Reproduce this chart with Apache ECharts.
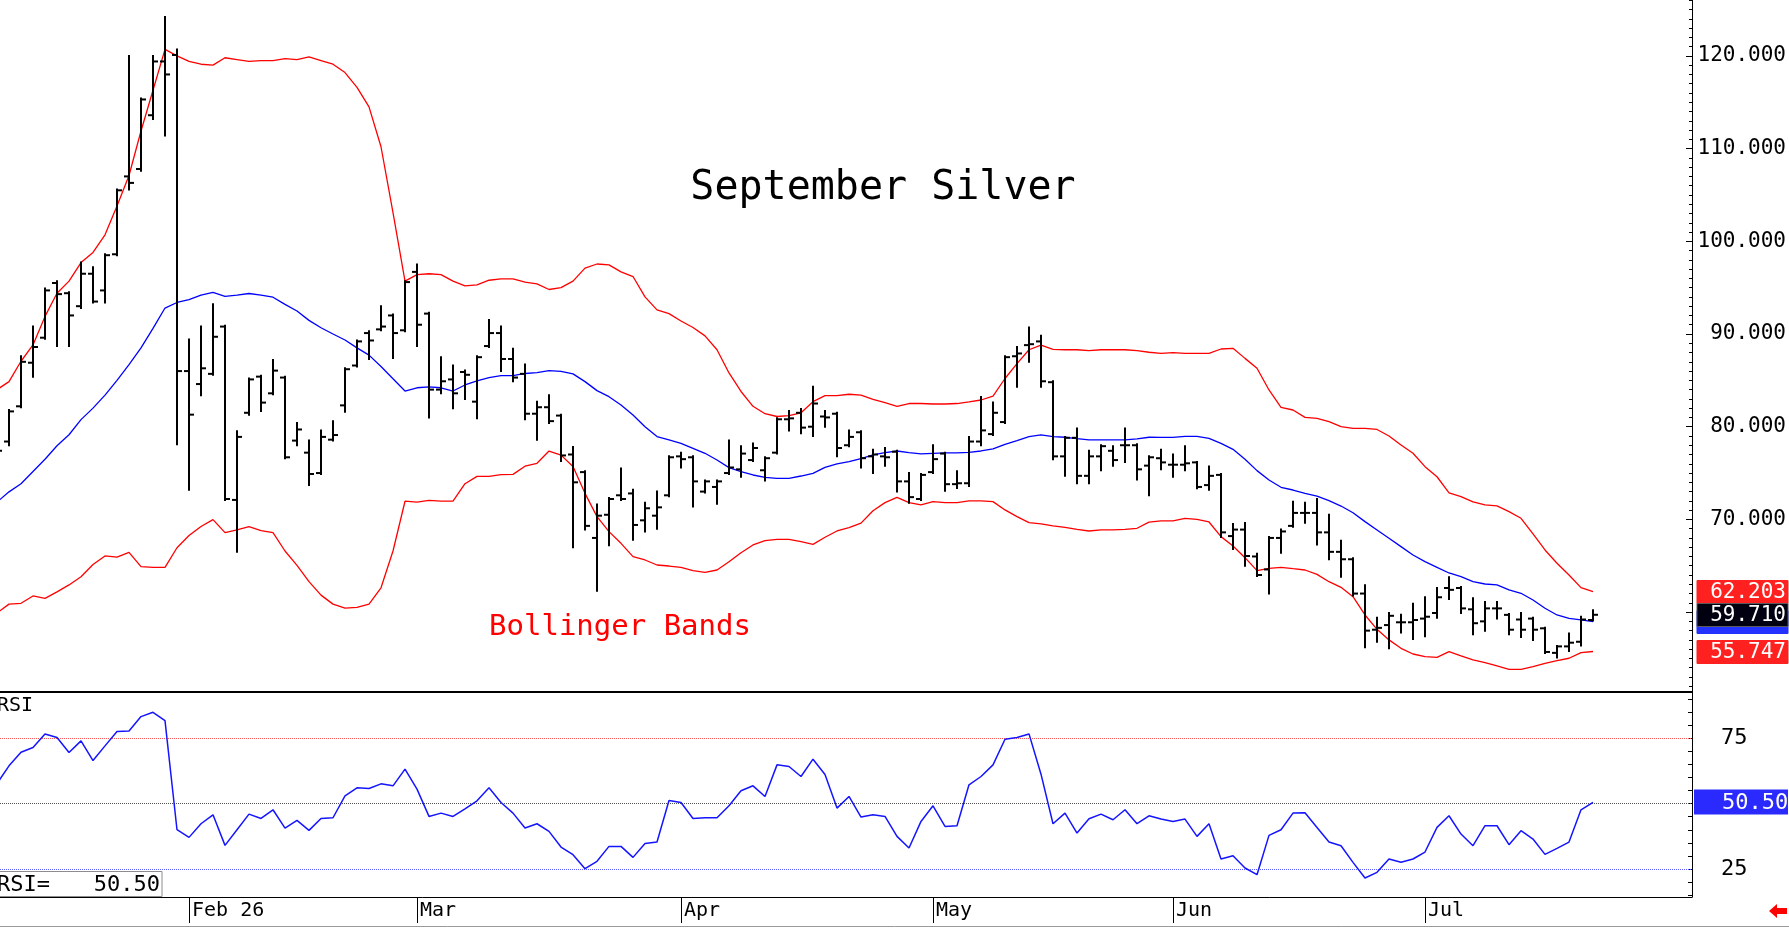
<!DOCTYPE html>
<html>
<head>
<meta charset="utf-8">
<title>September Silver</title>
<script src="https://cdn.jsdelivr.net/npm/echarts@6.0.0/dist/echarts.min.js"></script>
<style>
  html, body { margin: 0; padding: 0; background: #fff; }
  #chart { width: 1789px; height: 928px; }
</style>
</head>
<body>
<div id="chart"></div>
<script>
// bar index of the first entry (one bar is cut off at the left edge)
const firstBar = -1

const opens = [
  77.0,
  78.4, 82.2, 86.9, 89.6, 95.5, 94.4, 93.0, 96.5, 94.7, 98.6,
  107.0, 107.8, 113.6, 119.4, 120.1, 86.0, 84.6, 85.7, 90.8, 72.1,
  81.5, 85.4, 83.6, 85.3, 78.5, 77.2, 75.0, 78.6, 82.3, 86.6,
  90.1, 90.5, 92.0, 90.4, 96.7, 92.2, 84.0, 85.1, 85.9, 82.7,
  88.7, 90.1, 87.3, 85.7, 81.4, 82.1, 81.2, 77.0, 75.1, 68.0,
  70.5, 72.6, 72.8, 69.9, 70.4, 72.6, 76.8, 76.7, 73.0, 73.5,
  75.0, 75.4, 76.4, 75.3, 77.2, 80.8, 81.5, 80.0, 81.1, 81.4,
  78.0, 79.4, 76.8, 76.8, 77.3, 74.1, 72.2, 75.1, 77.1, 73.8,
  73.9, 78.4, 79.2, 80.5, 87.6, 88.8, 89.2, 84.8, 76.8, 78.8,
  74.7, 76.8, 77.4, 78.0, 78.0, 75.8, 76.6, 75.9, 75.9, 76.15,
  73.7, 74.8, 68.2, 68.9, 66.0, 64.6, 68.0, 69.3, 70.7, 70.7,
  68.6, 66.5, 65.7, 62.0, 58.1, 58.6, 58.9, 58.9, 59.3, 59.9,
  62.6, 62.6, 60.3, 59.0, 60.4, 59.7, 59.2, 59.3, 58.25, 55.6,
  56.3, 56.8, 59.15
]
const highs = [
  78.6,
  81.8, 87.6, 90.8, 94.9, 95.7, 94.5, 97.7, 97.2, 98.6, 105.6,
  120.0, 115.4, 120.0, 124.2, 120.7, 89.4, 90.8, 93.2, 90.9, 79.5,
  85.2, 85.5, 87.2, 85.4, 80.4, 78.5, 79.6, 80.6, 86.3, 89.3,
  90.3, 93.0, 92.1, 95.7, 97.5, 92.3, 87.5, 86.6, 86.05, 87.6,
  91.5, 90.8, 88.4, 86.7, 82.7, 83.4, 81.3, 77.8, 75.2, 71.6,
  72.3, 75.5, 73.2, 71.8, 73.0, 76.8, 77.2, 76.8, 74.2, 74.2,
  78.5, 77.9, 78.2, 76.7, 80.9, 81.7, 81.9, 84.3, 81.7, 81.5,
  79.6, 79.5, 77.5, 77.7, 77.4, 75.0, 74.9, 78.0, 77.2, 75.2,
  78.9, 83.2, 82.6, 87.6, 88.6, 90.7, 89.8, 84.9, 78.9, 79.8,
  77.4, 78.0, 77.9, 79.8, 78.1, 76.8, 77.5, 77.0, 77.9, 76.2,
  75.7, 74.9, 69.5, 69.6, 66.3, 68.1, 68.9, 71.9, 71.8, 72.2,
  70.5, 67.7, 65.8, 62.9, 59.4, 59.9, 59.7, 60.9, 61.6, 62.6,
  63.75, 62.7, 61.5, 61.1, 61.1, 59.8, 59.9, 59.4, 58.3, 56.35,
  57.7, 59.5, 60.2
]
const lows = [
  76.2,
  78.0, 82.1, 85.4, 89.5, 88.7, 88.7, 92.8, 93.4, 93.4, 98.5,
  105.6, 107.6, 113.2, 111.4, 78.1, 73.2, 83.4, 85.6, 72.1, 66.5,
  81.3, 81.7, 83.5, 76.6, 78.0, 73.7, 74.9, 78.5, 81.6, 86.5,
  87.3, 90.4, 87.4, 90.3, 88.7, 81.0, 83.6, 82.0, 83.0, 80.9,
  88.6, 86.0, 84.9, 80.8, 78.6, 80.4, 76.3, 67.0, 68.9, 62.3,
  67.2, 72.1, 67.8, 68.7, 69.0, 72.5, 75.6, 71.4, 72.9, 71.7,
  74.9, 74.6, 76.3, 74.2, 77.1, 79.6, 79.3, 79.0, 80.0, 76.8,
  77.9, 75.6, 75.0, 75.8, 73.0, 71.8, 72.1, 75.0, 73.1, 73.4,
  73.6, 78.0, 79.1, 80.4, 84.3, 87.0, 84.3, 76.5, 74.7, 73.9,
  73.9, 75.3, 75.8, 76.2, 74.3, 72.6, 75.4, 74.6, 75.3, 73.35,
  73.2, 68.1, 66.8, 65.0, 63.9, 62.0, 66.4, 69.2, 69.65, 67.3,
  65.7, 63.8, 61.8, 56.2, 56.8, 56.1, 57.8, 57.1, 57.4, 59.4,
  61.4, 59.9, 57.6, 58.0, 59.3, 57.6, 57.3, 57.0, 55.6, 55.1,
  55.8, 56.4, 59.1
]
const closes = [
  77.4,
  81.65, 87.0, 88.6, 94.7, 94.3, 92.0, 96.5, 93.5, 98.5, 105.5,
  106.3, 115.3, 119.4, 118.0, 86.0, 81.3, 86.3, 89.7, 72.2, 78.9,
  85.1, 82.6, 86.05, 76.7, 79.7, 74.9, 78.9, 79.1, 86.2, 89.2,
  89.3, 90.8, 90.1, 95.6, 91.0, 84.0, 84.9, 83.6, 85.6, 87.5,
  90.1, 87.3, 85.3, 81.4, 82.1, 80.6, 76.9, 74.0, 69.3, 70.4,
  72.2, 72.2, 69.4, 71.2, 71.3, 76.7, 76.5, 74.1, 74.1, 74.1,
  75.6, 77.1, 77.7, 76.6, 80.8, 80.9, 79.9, 82.5, 81.0, 77.7,
  78.9, 76.6, 77.0, 76.7, 74.1, 72.4, 74.8, 76.5, 73.8, 73.9,
  78.4, 79.6, 81.5, 87.5, 87.9, 88.9, 84.9, 76.8, 78.8, 74.7,
  76.8, 77.9, 76.4, 78.0, 75.4, 76.7, 76.15, 75.9, 76.05, 73.5,
  74.7, 68.6, 68.9, 66.05, 64.0, 68.0, 68.7, 70.7, 70.7, 68.6,
  66.5, 65.7, 62.0, 58.0, 58.3, 59.6, 58.9, 59.15, 59.5, 61.6,
  62.4, 60.4, 58.8, 60.4, 60.4, 58.1, 58.1, 58.1, 55.7, 56.3,
  56.7, 59.2, 59.71
]

const upperBand = [
  84.0,
  84.86, 87.06, 88.82, 91.9, 94.4, 95.7, 97.7, 98.8, 100.7, 103.8,
  107.1, 111.9, 116.3, 120.7, 120.0, 119.4, 119.1, 119.0, 119.8, 119.6,
  119.4, 119.5, 119.5, 119.7, 119.6, 119.9, 119.5, 119.1, 118.2, 116.6,
  114.5, 110.2, 103.1, 95.7, 96.4, 96.5, 96.4, 95.7, 95.2, 95.3,
  95.8, 95.95, 95.95, 95.6, 95.4, 94.8, 95.0, 95.7, 97.1, 97.55,
  97.45, 96.7, 96.2, 94.0, 92.6, 92.2, 91.4, 90.7, 89.8, 88.3,
  85.8, 83.8, 82.2, 81.4, 81.1, 81.2, 81.5, 82.7, 83.35, 83.35,
  83.5, 83.4, 82.95, 82.6, 82.2, 82.5, 82.5, 82.45, 82.45, 82.5,
  82.67, 82.88, 83.3, 85.2, 86.8, 88.3, 88.8, 88.35, 88.3, 88.3,
  88.2, 88.3, 88.3, 88.3, 88.2, 88.03, 87.91, 87.98, 87.91, 87.91,
  87.91, 88.38, 88.45, 87.37, 86.3, 83.96, 82.09, 81.8, 81.0, 80.9,
  80.54, 80.0, 79.82, 79.82, 79.7, 79.0, 78.02, 77.13, 75.69, 74.6,
  72.85, 72.46, 71.9, 71.56, 71.45, 70.84, 70.12, 68.43, 66.7, 65.27,
  64.0, 62.64, 62.203
]
const middleBand = [
  71.87,
  72.97, 73.85, 75.17, 76.49, 77.95, 79.13, 80.76, 82.0, 83.4, 85.0,
  86.7, 88.5, 90.6, 92.8, 93.4, 93.7, 94.2, 94.5, 94.06, 94.2,
  94.37, 94.2, 93.97, 93.2, 92.48, 91.47, 90.67, 90.0, 89.35, 88.5,
  87.72, 86.5, 85.17, 83.85, 84.2, 84.3, 84.2, 83.85, 84.5, 84.95,
  85.3, 85.5, 85.5, 85.74, 85.83, 86.05, 85.96, 85.7, 84.86, 83.89,
  83.24, 82.34, 81.26, 80.0, 78.93, 78.57, 78.21, 77.67, 77.13, 76.41,
  75.58, 75.15, 74.79, 74.54, 74.43, 74.43, 74.68, 74.97, 75.62, 75.98,
  76.23, 76.55, 76.95, 77.2, 77.38, 77.2, 77.06, 77.13, 77.17, 77.17,
  77.24, 77.38, 77.6, 78.1, 78.5, 78.93, 79.11, 78.93, 78.86, 78.71,
  78.57, 78.57, 78.57, 78.57, 78.68, 78.86, 78.85, 78.85, 78.96, 78.96,
  78.74, 78.2, 77.56, 76.48, 75.26, 74.25, 73.46, 73.17, 72.81, 72.52,
  72.02, 71.44, 70.72, 69.76, 68.86, 67.96, 67.06, 66.16, 65.44, 64.83,
  64.22, 63.82, 63.28, 63.03, 62.93, 62.39, 62.03, 61.31, 60.41, 59.69,
  59.33, 59.15, 58.975
]
const lowerBand = [
  59.9,
  60.86, 60.95, 61.74, 61.48, 62.18, 62.93, 63.81, 65.13, 66.06, 65.92,
  66.45, 64.91, 64.82, 64.82, 66.94, 68.26, 69.23, 69.98, 68.57, 68.87,
  69.23, 68.79, 68.57, 66.59, 65.04, 63.28, 61.83, 60.86, 60.42, 60.51,
  60.86, 62.62, 66.59, 71.96, 71.87, 72.05, 71.96, 71.96, 73.85, 74.64,
  74.64, 74.82, 74.86, 75.74, 76.05, 77.37, 76.93, 75.7, 72.81, 70.3,
  68.68, 67.42, 65.98, 65.62, 65.08, 64.97, 64.83, 64.47, 64.29, 64.54,
  65.44, 66.41, 67.24, 67.71, 67.85, 67.85, 67.6, 67.31, 68.07, 68.75,
  69.11, 69.6, 70.94, 71.81, 72.38, 71.81, 71.56, 71.92, 71.81, 71.81,
  71.99, 71.99, 71.92, 71.02, 70.3, 69.65, 69.51, 69.29, 69.15, 68.93,
  68.75, 68.86, 68.86, 68.93, 69.04, 69.7, 69.83, 69.83, 70.11, 70.0,
  69.72, 68.14, 67.13, 65.87, 64.47, 64.72, 64.83, 64.68, 64.54, 64.07,
  63.28, 62.67, 61.66, 59.69, 58.14, 57.0, 56.09, 55.48, 55.19, 55.12,
  55.73, 55.27, 54.84, 54.55, 54.19, 53.83, 53.83, 54.12, 54.48, 54.76,
  55.02, 55.63, 55.747
]

const rsiValues = [
  57.7,
  64.44, 69.66, 71.44, 76.65, 75.25, 69.53, 73.98, 66.48, 72.07, 77.54,
  77.8, 83.27, 84.92, 81.74, 40.02, 37.1, 42.3, 45.74, 34.04, 40.02,
  46.0, 44.34, 47.65, 40.66, 43.58, 39.77, 44.34, 44.6, 53.0, 56.05,
  55.79, 57.57, 56.81, 63.17, 55.54, 45.11, 46.38, 45.11, 48.03, 51.09,
  56.05, 50.45, 46.38, 40.66, 42.31, 39.38, 33.41, 30.48, 25.14, 27.94,
  33.66, 33.66, 29.46, 34.8, 35.31, 51.21, 50.45, 44.34, 44.6, 44.6,
  49.18, 54.9, 56.81, 52.74, 64.82, 64.19, 60.37, 66.99, 61.14, 48.29,
  52.74, 44.85, 45.74, 45.11, 37.48, 33.02, 43.2, 49.18, 41.29, 41.55,
  57.19, 60.37, 64.82, 74.62, 75.25, 76.65, 61.26, 42.31, 46.38, 38.75,
  44.22, 46.0, 43.84, 47.65, 42.31, 45.36, 44.09, 43.2, 44.09, 37.48,
  42.31, 28.83, 30.1, 25.39, 22.85, 37.86, 40.02, 46.38, 46.51, 40.91,
  35.31, 33.91, 27.56, 21.58, 23.74, 28.83, 27.56, 28.83, 31.5, 40.91,
  45.36, 38.37, 33.91, 41.55, 41.55, 34.3, 39.64, 36.46, 30.61, 32.9,
  35.31, 47.65, 50.5
]

// month starts on the bar index scale
const monthTicks = [15, 34, 56, 77, 97, 118]
const monthLabels = ['Feb 26', 'Mar', 'Apr', 'May', 'Jun', 'Jul']
const priceLabels = [70, 80, 90, 100, 110, 120]
const rsiLabels = [25, 75]
const rsiLevels = [75, 50, 25]

const monoFont = '"DejaVu Sans Mono", "Liberation Mono", monospace'

const chart = echarts.init(document.getElementById('chart'), null, { renderer: 'canvas' })

const idx = (k) => k + firstBar
const ohlc = opens.map((o, k) => [idx(k), o, highs[k], lows[k], closes[k]])
const pairs = (arr) => arr.map((v, k) => [idx(k), v])

function range(a, b, step) {
  const out = []
  for (let v = a; v <= b; v += step) out.push(v)
  return out
}

function renderBar(params, api) {
  const x = api.value(0)
  const o = api.coord([x, api.value(1)])
  const h = api.coord([x, api.value(2)])
  const l = api.coord([x, api.value(3)])
  const c = api.coord([x, api.value(4)])
  const style = { stroke: '#000', lineWidth: 2 }
  return {
    type: 'group',
    children: [
      { type: 'line', shape: { x1: h[0], y1: h[1] - 1, x2: l[0], y2: l[1] + 1 }, style },
      { type: 'line', shape: { x1: o[0] - 5, y1: o[1], x2: o[0], y2: o[1] }, style },
      { type: 'line', shape: { x1: c[0], y1: c[1], x2: c[0] + 5, y2: c[1] }, style }
    ]
  }
}

const xMin = -0.75
const xMax = 140.25

const option = {
  animation: false,
  backgroundColor: '#fff',
  grid: [
    { left: 0, top: 0, width: 1692, height: 692 },
    { left: 0, top: 692, width: 1692, height: 205 }
  ],
  xAxis: [
    { gridIndex: 0, type: 'value', min: xMin, max: xMax, show: false },
    {
      gridIndex: 1,
      type: 'value',
      min: xMin,
      max: xMax,
      axisLine: { show: true, onZero: false, lineStyle: { color: '#000', width: 1 } },
      axisTick: { show: true, customValues: monthTicks, length: 26, lineStyle: { color: '#000', width: 1 } },
      axisLabel: {
        customValues: monthTicks,
        formatter: (v) => monthLabels[monthTicks.indexOf(v)] || '',
        align: 'left',
        padding: [0, 0, 0, 3],
        margin: 4,
        color: '#000',
        fontFamily: monoFont,
        fontSize: 20
      },
      splitLine: { show: false }
    }
  ],
  yAxis: [
    {
      gridIndex: 0,
      type: 'value',
      position: 'right',
      min: 51.38,
      max: 126.03,
      axisLine: { show: true, onZero: false, lineStyle: { color: '#000', width: 1 } },
      axisTick: { show: true, inside: true, length: 6, customValues: [60].concat(priceLabels), lineStyle: { color: '#000' } },
      axisLabel: {
        customValues: priceLabels,
        formatter: (v) => v.toFixed(3),
        align: 'right',
        margin: 94,
        color: '#000',
        fontFamily: monoFont,
        fontSize: 21
      },
      splitLine: { show: false }
    },
    {
      gridIndex: 0,
      type: 'value',
      position: 'right',
      min: 51.38,
      max: 126.03,
      axisLine: { show: false, onZero: false },
      axisTick: { show: true, inside: true, length: 3, customValues: range(52, 126, 1), lineStyle: { color: '#000' } },
      axisLabel: { show: false },
      splitLine: { show: false }
    },
    {
      gridIndex: 1,
      type: 'value',
      position: 'right',
      min: 14.31,
      max: 92.67,
      axisLine: { show: true, onZero: false, lineStyle: { color: '#000', width: 1 } },
      axisTick: { show: true, inside: true, length: 4, customValues: range(15, 90, 5), lineStyle: { color: '#000' } },
      axisLabel: {
        customValues: rsiLabels,
        align: 'left',
        margin: 29,
        color: '#000',
        fontFamily: monoFont,
        fontSize: 22
      },
      splitLine: { show: false }
    }
  ],
  series: [
    {
      name: 'Upper',
      type: 'line',
      xAxisIndex: 0,
      yAxisIndex: 0,
      data: pairs(upperBand),
      symbol: 'none',
      lineStyle: { color: '#ff0000', width: 1.3 },
      clip: true,
      z: 2
    },
    {
      name: 'Middle',
      type: 'line',
      xAxisIndex: 0,
      yAxisIndex: 0,
      data: pairs(middleBand),
      symbol: 'none',
      lineStyle: { color: '#0000ff', width: 1.3 },
      clip: true,
      z: 2
    },
    {
      name: 'Lower',
      type: 'line',
      xAxisIndex: 0,
      yAxisIndex: 0,
      data: pairs(lowerBand),
      symbol: 'none',
      lineStyle: { color: '#ff0000', width: 1.3 },
      clip: true,
      z: 2
    },
    {
      name: 'Silver',
      type: 'custom',
      xAxisIndex: 0,
      yAxisIndex: 0,
      renderItem: renderBar,
      encode: { x: 0, y: [1, 2, 3, 4] },
      data: ohlc,
      clip: true,
      z: 5
    },
    {
      name: 'RSI',
      type: 'line',
      xAxisIndex: 1,
      yAxisIndex: 2,
      data: pairs(rsiValues),
      symbol: 'none',
      lineStyle: { color: '#1414ff', width: 1.5 },
      clip: true,
      z: 5,
      markLine: {
        silent: true,
        symbol: 'none',
        label: { show: false },
        animation: false,
        data: [
          { yAxis: rsiLevels[0], lineStyle: { color: '#ff5a5a', type: 'dotted', width: 1 } },
          { yAxis: rsiLevels[1], lineStyle: { color: '#505050', type: 'dotted', width: 1 } },
          { yAxis: rsiLevels[2], lineStyle: { color: '#5a5aff', type: 'dotted', width: 1 } }
        ]
      }
    }
  ]
}

chart.setOption(option)

// value tags on the right axis and the text annotations
const last = closes.length - 1
const priceY = (v) => Math.round(chart.convertToPixel({ yAxisIndex: 0 }, v))
const rsiY = (v) => Math.round(chart.convertToPixel({ yAxisIndex: 2 }, v))

function tag(value, y, bg, fg, border, withText) {
  const children = [
    {
      type: 'rect',
      shape: { x: 1697, y: y - 11.5, width: 91, height: 23 },
      style: { fill: bg, stroke: border || bg, lineWidth: 1 }
    }
  ]
  if (withText) {
    children.push({
      type: 'text',
      style: {
        text: value.toFixed(3), x: 1786, y: y + 1,
        align: 'right', verticalAlign: 'middle', textAlign: 'right', textVerticalAlign: 'middle',
        font: '21px ' + monoFont, fill: fg
      }
    })
  }
  return { type: 'group', z: 50, children }
}

const rsiLast = rsiValues[rsiValues.length - 1]

chart.setOption({
  graphic: [
    {
      type: 'text',
      z: 20,
      style: {
        text: 'September Silver', x: 883, y: 189,
        align: 'center', verticalAlign: 'middle', textAlign: 'center', textVerticalAlign: 'middle',
        font: '40px ' + monoFont, fill: '#000'
      }
    },
    {
      type: 'text',
      z: 20,
      style: {
        text: 'Bollinger Bands', x: 620, y: 627,
        align: 'center', verticalAlign: 'middle', textAlign: 'center', textVerticalAlign: 'middle',
        font: '29px ' + monoFont, fill: '#ff0000'
      }
    },
    {
      type: 'line',
      z: 30,
      shape: { x1: 0, y1: 692, x2: 1693, y2: 692 },
      style: { stroke: '#000', lineWidth: 2 }
    },
    {
      type: 'text',
      z: 20,
      style: {
        text: 'RSI', x: -3, y: 706,
        align: 'left', verticalAlign: 'middle', textAlign: 'left', textVerticalAlign: 'middle',
        font: '20px ' + monoFont, fill: '#000'
      }
    },
    {
      type: 'rect',
      z: 20,
      shape: { x: -1, y: 871.5, width: 163, height: 25 },
      style: { fill: '#fff', stroke: '#8c8c8c', lineWidth: 1 }
    },
    {
      type: 'text',
      z: 21,
      style: {
        text: 'RSI=', x: -3, y: 885,
        align: 'left', verticalAlign: 'middle', textAlign: 'left', textVerticalAlign: 'middle',
        font: '22px ' + monoFont, fill: '#000'
      }
    },
    {
      type: 'text',
      z: 21,
      style: {
        text: rsiLast.toFixed(2), x: 160, y: 885,
        align: 'right', verticalAlign: 'middle', textAlign: 'right', textVerticalAlign: 'middle',
        font: '22px ' + monoFont, fill: '#000'
      }
    },
    tag(upperBand[last], priceY(upperBand[last]), '#ff2020', '#fff', null, true),
    tag(lowerBand[last], priceY(lowerBand[last]), '#ff2020', '#fff', null, true),
    tag(middleBand[last], priceY(middleBand[last]), '#2432ff', '#fff', null, false),
    tag(closes[last], priceY(closes[last]), '#000010', '#fff', '#5a5a5a', true),
    {
      type: 'group',
      z: 50,
      children: [
        {
          type: 'rect',
          shape: { x: 1694, y: rsiY(rsiLast) - 12.5, width: 94, height: 25 },
          style: { fill: '#2a2aff' }
        },
        {
          type: 'text',
          style: {
            text: rsiLast.toFixed(2), x: 1722, y: rsiY(rsiLast) + 1,
            align: 'left', verticalAlign: 'middle', textAlign: 'left', textVerticalAlign: 'middle',
            font: '22px ' + monoFont, fill: '#fff'
          }
        }
      ]
    },
    {
      type: 'line',
      z: 20,
      shape: { x1: 0, y1: 926.5, x2: 1789, y2: 926.5 },
      style: { stroke: '#9a9a9a', lineWidth: 1 }
    },
    {
      type: 'polygon',
      z: 20,
      shape: { points: [[1769, 911], [1777, 904], [1777, 908], [1787, 908], [1787, 914], [1777, 914], [1777, 918]] },
      style: { fill: '#ff0000' }
    }
  ]
})
</script>
</body>
</html>
